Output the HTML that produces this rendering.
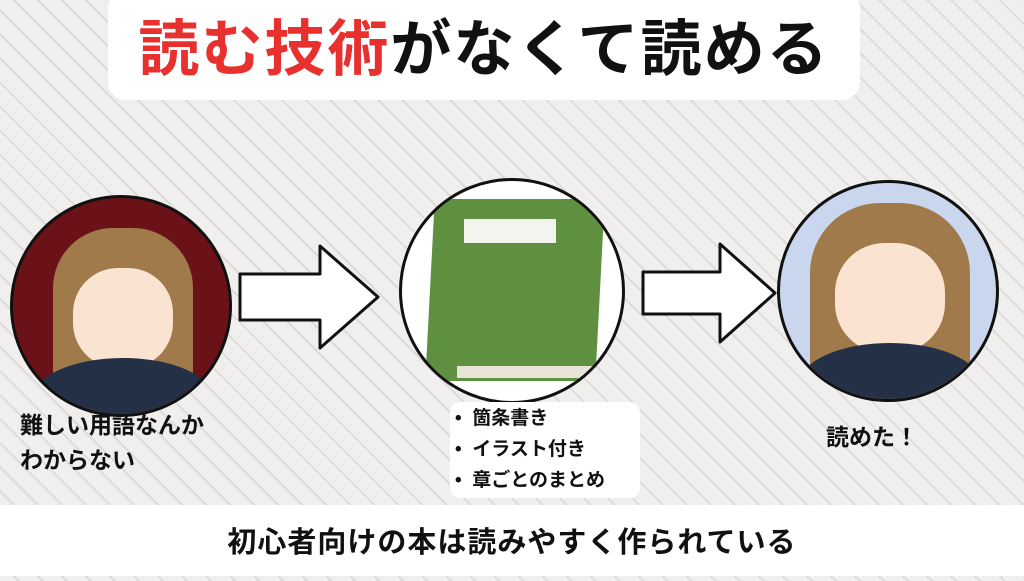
<!DOCTYPE html>
<html><head><meta charset="utf-8"><style>
body{margin:0;width:1024px;height:576px;overflow:hidden;position:relative;font-family:"Liberation Sans","Noto Sans CJK JP",sans-serif;
background:repeating-linear-gradient(45deg,#f1efed 0 8px,#dedcda 8px 10px,#f1efed 10px 17px);}
.abs{position:absolute}
.title{left:108px;top:-10px;width:752px;height:110px;background:#fff;border-radius:18px;text-align:center;line-height:118px;font-size:61px;font-weight:bold;color:#111;letter-spacing:2px}
.circ{border:3px solid #111;border-radius:50%;box-sizing:border-box;overflow:hidden}
.lbl{font-size:23px;font-weight:bold;color:#111;line-height:35px}
</style></head><body>
<div class="abs title"><span style="color:#e8302f">読む技術</span>がなくて読める</div>

<div class="abs circ" style="left:10px;top:195px;width:222px;height:222px;background:#6a1218">
 <div class="abs" style="left:40px;top:30px;width:140px;height:200px;background:#a07a4a;border-radius:60px 60px 10px 10px"></div>
 <div class="abs" style="left:60px;top:70px;width:100px;height:100px;background:#fbe3d2;border-radius:45%"></div>
 <div class="abs" style="left:20px;top:160px;width:180px;height:80px;background:#243045;border-radius:50% 50% 0 0"></div>
</div>
<div class="abs circ" style="left:399px;top:178px;width:226px;height:226px;background:#fff">
 <div class="abs" style="left:28px;top:18px;width:170px;height:182px;background:#5e9040;border-radius:6px;transform:skewX(-3deg)"></div>
 <div class="abs" style="left:62px;top:38px;width:92px;height:24px;background:#f4f4ee"></div>
 <div class="abs" style="left:55px;top:185px;width:150px;height:12px;background:#e9e4d8"></div>
</div>
<div class="abs circ" style="left:777px;top:180px;width:222px;height:222px;background:#c9d6ee">
 <div class="abs" style="left:30px;top:20px;width:160px;height:200px;background:#a07a4a;border-radius:70px 70px 10px 10px"></div>
 <div class="abs" style="left:55px;top:60px;width:110px;height:110px;background:#fbe3d2;border-radius:45%"></div>
 <div class="abs" style="left:20px;top:160px;width:180px;height:80px;background:#243045;border-radius:50% 50% 0 0"></div>
</div>

<svg class="abs" style="left:0;top:0" width="1024" height="576">
 <polygon points="240,274 320,274 320,246 378,297 320,348 320,320 240,320" fill="#fff" stroke="#111" stroke-width="3" stroke-linejoin="round"/>
 <polygon points="643,272 720,272 720,244 775,293 720,342 720,314 643,314" fill="#fff" stroke="#111" stroke-width="3" stroke-linejoin="round"/>
</svg>

<div class="abs lbl" style="left:20px;top:408px">難しい用語なんか<br>わからない</div>
<div class="abs lbl" style="left:826px;top:420px">読めた！</div>
<div class="abs" style="left:450px;top:402px;width:190px;height:96px;background:#fff;border-radius:10px"></div>
<div class="abs" style="left:455px;top:403px;font-size:19px;font-weight:bold;color:#111;line-height:31px">•&nbsp; 箇条書き<br>•&nbsp; イラスト付き<br>•&nbsp; 章ごとのまとめ</div>

<div class="abs" style="left:0;top:505px;width:1024px;height:71px;background:#fff;text-align:center;line-height:76px;font-size:29px;font-weight:bold;color:#111;letter-spacing:1px">初心者向けの本は読みやすく作られている</div>
</body></html>
